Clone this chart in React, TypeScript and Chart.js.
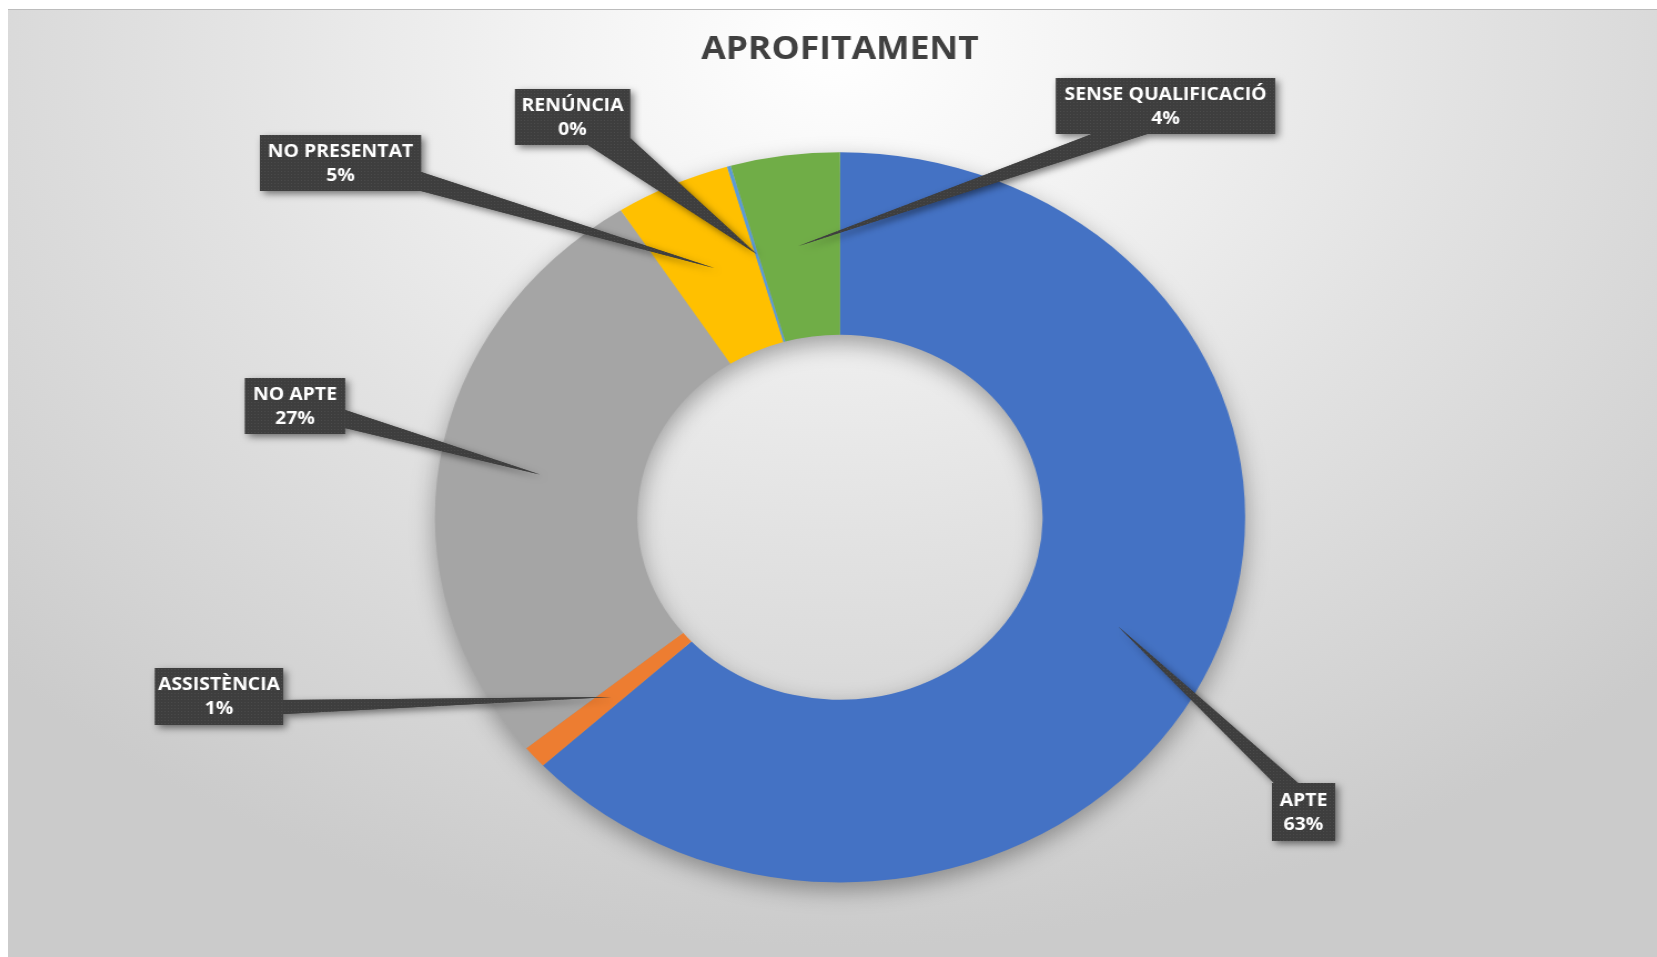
import React, { useEffect, useRef } from "react";
import { Chart, registerables } from "chart.js";

Chart.register(...registerables);

// ---- data ----
const categories = ["APTE", "ASSISTÈNCIA", "NO APTE", "NO PRESENTAT", "RENÚNCIA", "SENSE QUALIFICACIÓ"];
const values = [63.1, 1.0, 26.8, 4.6, 0.15, 4.35];
const sliceColors = ["#4472C4", "#ED7D31", "#A5A5A5", "#FFC000", "#5B9BD5", "#70AD47"];
const titleText = "APROFITAMENT";

// ---- callout layout (page pixels): box [left, top, right, bottom] ----
const labelBoxes = [
  [1272, 783, 1335, 841],
  [155, 668, 283, 725],
  [245, 378, 345, 434],
  [260, 135, 421, 191],
  [515, 89, 630, 145],
  [1056, 78, 1275, 134],
];
// leader wedge base points (page pixels)
const leaderBases = [
  [[1274, 783], [1298, 783]],
  [[283, 700], [283, 714]],
  [[345, 410], [345, 428]],
  [[421, 172], [421, 191]],
  [[588, 145], [630, 138]],
  [[1092, 134], [1147, 134]],
];

const FRAME_LEFT = 8;
const FRAME_TOP = 9;
const FRAME_W = 1649;
const FRAME_H = 948;
const STRETCH = 1.11;
const CANVAS_W = Math.round(FRAME_W / STRETCH);
const SX = FRAME_W / CANVAS_W;

const px = (X: number) => (X - FRAME_LEFT) / SX;
const py = (Y: number) => Y - FRAME_TOP;

const LABEL_FONT = "bold 17.5px 'Open Sans', 'Noto Sans', sans-serif";

function makePattern(ctx: CanvasRenderingContext2D) {
  const c = document.createElement("canvas");
  c.width = 3;
  c.height = 3;
  const g = c.getContext("2d")!;
  g.fillStyle = "#3e3e3e";
  g.fillRect(0, 0, 3, 3);
  g.fillStyle = "#4c4c4c";
  g.fillRect(0, 0, 1, 1);
  return ctx.createPattern(c, "repeat") || "#404040";
}

const ringShadowPlugin = {
  id: "ringShadow",
  beforeDatasetsDraw(chart: any) {
    const meta = chart.getDatasetMeta(0);
    if (!meta.data.length) return;
    const { x, y, outerRadius, innerRadius } = meta.data[0].getProps(["x", "y", "outerRadius", "innerRadius"], true);
    const ctx: CanvasRenderingContext2D = chart.ctx;
    const OFF = 10000;
    ctx.save();
    ctx.shadowColor = "rgba(0,0,0,0.34)";
    ctx.shadowBlur = 22;
    ctx.shadowOffsetX = OFF;
    ctx.shadowOffsetY = 8;
    ctx.beginPath();
    ctx.arc(x - OFF, y, outerRadius, 0, Math.PI * 2);
    ctx.arc(x - OFF, y, innerRadius, 0, Math.PI * 2, true);
    ctx.closePath();
    ctx.fillStyle = "#000";
    ctx.fill();
    ctx.restore();
  },
};

const calloutPlugin = {
  id: "callouts",
  afterDatasetsDraw(chart: any) {
    const ctx: CanvasRenderingContext2D = chart.ctx;
    const meta = chart.getDatasetMeta(0);
    const data: number[] = chart.data.datasets[0].data;
    const total = data.reduce((a, b) => a + b, 0);
    const labels: string[] = chart.data.labels;
    const pattern = makePattern(ctx);
    meta.data.forEach((arc: any, i: number) => {
      const tip = arc.tooltipPosition(true);
      const [L, T, R, B] = labelBoxes[i];
      const l = px(L), t = py(T), r = px(R), b = py(B);
      const [b1, b2] = leaderBases[i];
      const wedge = () => {
        ctx.beginPath();
        ctx.moveTo(tip.x, tip.y);
        ctx.lineTo(px(b1[0]), py(b1[1]));
        ctx.lineTo(px(b2[0]), py(b2[1]));
        ctx.closePath();
        ctx.fill();
      };
      // shadows
      ctx.save();
      ctx.shadowColor = "rgba(0,0,0,0.5)";
      ctx.shadowBlur = 7;
      ctx.shadowOffsetX = 3;
      ctx.shadowOffsetY = 3;
      ctx.fillStyle = pattern;
      wedge();
      ctx.fillRect(l, t, r - l, b - t);
      ctx.restore();
      // shapes without shadow on top
      ctx.save();
      ctx.fillStyle = pattern;
      wedge();
      ctx.fillRect(l, t, r - l, b - t);
      // text
      const pct = Math.round((data[i] / total) * 100) + "%";
      ctx.fillStyle = "#ffffff";
      ctx.font = LABEL_FONT;
      ctx.textAlign = "center";
      ctx.textBaseline = "middle";
      const cx = (l + r) / 2;
      const cy = (t + b) / 2;
      ctx.fillText(labels[i], cx, cy - 11);
      ctx.fillText(pct, cx, cy + 13);
      ctx.restore();
    });
  },
};

export default function App() {
  const canvasRef = useRef<HTMLCanvasElement | null>(null);

  useEffect(() => {
    if (!canvasRef.current) return;
    // target geometry (page px): centre (840, 517.3), outer vertical radius 365.1
    const centerX = px(840);
    const padLeft = Math.max(0, 2 * centerX - CANVAS_W);
    const padRight = Math.max(0, CANVAS_W - 2 * centerX);
    const areaTop = py(517.3 - 365.1);
    const areaBottom = py(517.3 + 365.1);
    const titleSize = 32;
    const titleLine = titleSize * 1.2;
    const titleMid = py(48) + 2.3;
    const padTop = titleMid - titleLine / 2;
    const padBottomTitle = areaTop - padTop - titleLine;

    const chart = new Chart(canvasRef.current, {
      type: "doughnut",
      data: {
        labels: categories,
        datasets: [
          {
            data: values,
            backgroundColor: sliceColors,
            borderWidth: 0,
            hoverOffset: 0,
          },
        ],
      },
      options: {
        responsive: false,
        animation: false,
        devicePixelRatio: 1,
        cutout: "50%",
        events: [],
        layout: {
          padding: { left: padLeft, right: padRight, top: 0, bottom: FRAME_H - areaBottom },
        },
        plugins: {
          legend: { display: false },
          tooltip: { enabled: false },
          title: {
            display: true,
            text: titleText,
            color: "#404040",
            font: { family: "'Open Sans', 'Noto Sans', sans-serif", size: titleSize, weight: "bold", lineHeight: 1.2 },
            padding: { top: padTop, bottom: padBottomTitle },
          },
        },
      } as any,
      plugins: [ringShadowPlugin, calloutPlugin],
    });
    return () => chart.destroy();
  }, []);

  return (
    <div
      style={{
        position: "fixed",
        left: FRAME_LEFT,
        top: FRAME_TOP,
        width: FRAME_W,
        height: FRAME_H,
        background:
          "radial-gradient(ellipse 70% 95% at 50% 4%, #ffffff 0%, #f4f4f4 22%, #e2e2e2 55%, #d3d3d3 85%, #cbcbcb 100%)",
        overflow: "hidden",
      }}
    >
      <div style={{ position: "absolute", left: 0, top: 0, width: "100%", height: 1, background: "#bcbcbc" }} />
      <canvas
        ref={canvasRef}
        width={CANVAS_W}
        height={FRAME_H}
        style={{ position: "absolute", left: 0, top: 0, width: FRAME_W + "px", height: FRAME_H + "px" }}
      />
    </div>
  );
}
